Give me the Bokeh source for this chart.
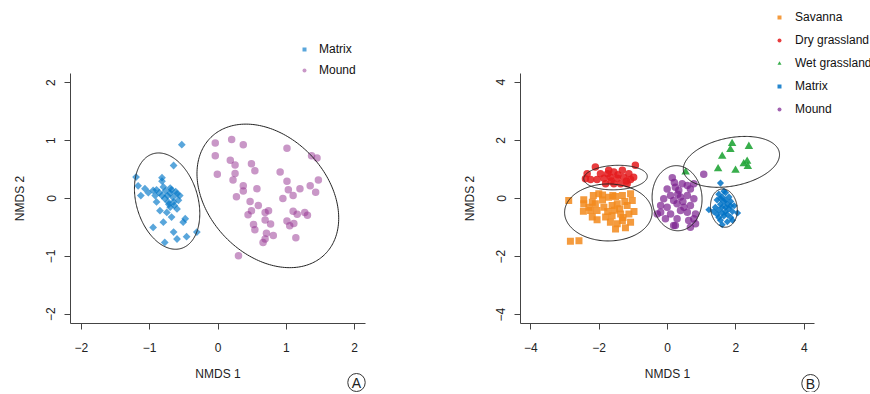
import numpy as np
from bokeh.plotting import figure
from bokeh.layouts import row
from bokeh.models import FixedTicker, Legend, LegendItem, Label
from bokeh.embed import file_html
from bokeh.resources import INLINE

FONT = "Liberation Sans"

# ---------------- Panel A data ----------------
matrixA_x = [-0.53, -0.65, -1.20, -0.82, -0.82, -1.17, -1.07, -1.13, -0.95, -0.90,
             -0.80, -0.68, -0.70, -0.60, -0.56, -0.82, -0.78, -0.90, -0.73, -0.65,
             -0.58, -0.70, -0.60, -0.85, -0.75, -0.68, -0.48, -0.51, -0.80, -0.95,
             -0.65, -0.60, -0.46, -0.31, -0.78, -0.92, -0.74, -0.66, -0.72, -0.62,
             -0.86, -0.70, -0.77, -0.64, -1.02]
matrixA_y = [0.93, 0.57, 0.37, 0.36, 0.30, 0.22, 0.17, 0.05, 0.14, 0.15,
             0.20, 0.15, 0.09, 0.08, 0.05, 0.05, 0.00, -0.06, -0.06, -0.06,
             -0.03, -0.15, -0.18, -0.21, -0.24, -0.32, -0.35, -0.41, -0.41, -0.50,
             -0.58, -0.70, -0.66, -0.58, -0.76, 0.05, 0.05, 0.02, -0.10, 0.12,
             0.10, 0.18, 0.13, -0.12, 0.10]

moundA_x = [-0.04, 0.20, 0.37, 1.01, -0.04, 0.18, 0.25, 0.49, 1.37, 1.45,
            -0.01, 0.25, 0.22, 0.54, 0.91, 1.01, 1.47, 1.35, 0.37, 0.37,
            0.57, 1.03, 1.20, 1.43, 0.27, 1.10, 0.95, 0.47, 0.59, 0.49,
            0.44, 0.69, 0.74, 1.10, 1.16, 1.27, 1.31, 0.69, 0.52, 0.54,
            0.77, 1.01, 1.05, 1.11, 0.71, 0.81, 0.69, 0.66, 1.14, 0.30]
moundA_y = [0.96, 1.02, 0.93, 0.87, 0.74, 0.66, 0.58, 0.60, 0.74, 0.70,
            0.42, 0.43, 0.32, 0.48, 0.46, 0.30, 0.32, 0.22, 0.22, 0.13,
            0.17, 0.15, 0.17, 0.11, 0.03, 0.05, 0.00, -0.05, -0.12, -0.21,
            -0.28, -0.24, -0.21, -0.22, -0.27, -0.24, -0.29, -0.37, -0.45, -0.54,
            -0.44, -0.39, -0.47, -0.43, -0.60, -0.64, -0.70, -0.76, -0.68, -0.99]

# ellipses: centre x, centre y, semi-major, semi-minor, angle (deg)
ellA_names = ["Matrix", "Mound"]
ellA_cx = [-0.745, 0.73]
ellA_cy = [-0.045, 0.045]
ellA_a = [0.845, 1.33]
ellA_b = [0.455, 0.92]
ellA_ang = [102, 120]

# ---------------- Panel B data ----------------
savanna_x = [-2.89, -2.45, -2.45, -2.46, -2.17, -2.01, -2.20, -2.11, -1.72, -1.52,
             -1.32, -1.08, -2.25, -2.06, -1.86, -1.62, -1.47, -1.18, -1.03, -2.20,
             -2.06, -1.81, -1.62, -1.37, -1.13, -1.67, -1.47, -1.32, -1.08, -1.52,
             -1.23, -2.84, -2.59, -1.90, -1.75, -1.55, -1.40, -1.25, -1.90, -2.30,
             -0.98, -1.60, -1.30]
savanna_y = [-0.07, -0.04, -0.18, -0.44, 0.10, 0.16, -0.13, -0.18, 0.04, 0.07,
             0.10, 0.16, -0.41, -0.41, -0.30, -0.24, -0.18, -0.24, -0.07, -0.64,
             -0.73, -0.64, -0.59, -0.53, -0.53, -0.82, -0.87, -0.76, -0.82, -1.05,
             -1.01, -1.47, -1.45, 0.12, -0.45, -0.40, -0.35, -0.10, -0.05, -0.30,
             -0.45, 0.10, -0.65]

dry_x = [-2.11, -0.94, -2.35, -2.40, -1.96, -1.72, -1.57, -1.32, -1.13, -2.06,
         -1.86, -1.67, -1.47, -1.28, -1.08, -1.81, -1.57, -1.37, -1.18, -2.25,
         -0.99, -1.75, -1.45, -1.20, -1.65]
dry_y = [1.08, 1.14, 0.85, 0.68, 0.85, 0.97, 0.91, 0.97, 0.85, 0.65,
         0.70, 0.73, 0.70, 0.73, 0.65, 0.51, 0.51, 0.51, 0.51, 0.65,
         0.73, 0.85, 0.82, 0.60, 0.60]

wet_x = [1.89, 2.38, 1.84, 1.60, 2.33, 2.23, 2.35, 1.48, 1.99, 0.53]
wet_y = [1.89, 1.79, 1.68, 1.45, 1.28, 1.19, 1.10, 1.02, 0.97, 0.91]

matrixB_x = [1.55, 1.21, 1.50, 1.70, 1.60, 1.80, 1.45, 1.65, 1.85, 1.55,
             1.75, 1.95, 1.40, 1.60, 1.80, 1.50, 1.70, 1.90, 2.05, 1.45,
             1.65, 1.85, 1.55, 1.75, 1.60, 1.70, 1.55, 1.75, 1.60, 1.70,
             1.85, 1.50, 1.65, 1.90, 1.35]
matrixB_y = [0.53, -0.39, 0.15, 0.20, 0.05, 0.05, -0.05, -0.10, -0.10, -0.20,
             -0.20, -0.25, -0.30, -0.30, -0.35, -0.40, -0.45, -0.45, -0.50, -0.55,
             -0.60, -0.65, -0.75, -0.80, -0.90, -0.05, 0.00, -0.55, -0.50, -0.30,
             -0.25, -0.65, 0.25, -0.75, -0.45]

moundB_x = [0.14, 1.06, 0.43, 0.23, -0.01, 0.33, 0.58, 0.67, 0.77, 0.09,
            -0.11, 0.18, 0.38, 0.58, 0.77, -0.20, -0.01, 0.28, 0.48, 0.67,
            -0.20, 0.09, 0.38, 0.58, -0.06, 0.28, 0.62, 0.77, 0.18, 0.67,
            -0.30, 0.23, 0.82, 0.82, 0.30, 0.20, 0.45]
moundB_y = [0.71, 0.83, 0.51, 0.39, 0.33, 0.28, 0.45, 0.33, 0.51, 0.10,
            -0.01, -0.07, 0.05, 0.10, -0.01, -0.24, -0.30, -0.18, -0.30, -0.24,
            -0.47, -0.53, -0.41, -0.47, -0.70, -0.70, -0.76, -0.70, -0.93, -0.99,
            -0.53, -0.93, -0.87, -0.53, 0.15, 0.55, -0.10]

ellB_names = ["Savanna", "Dry grassland", "Wet grassland", "Mound", "Matrix"]
ellB_cx = [-1.73, -1.52, 1.87, 0.28, 1.65]
ellB_cy = [-0.48, 0.72, 1.26, 0.01, -0.33]
ellB_a = [1.28, 0.93, 1.44, 1.12, 0.66]
ellB_b = [0.98, 0.42, 0.82, 0.73, 0.39]
ellB_ang = [0, 3, 15, 92, 95]

ticksA = [-2, -1, 0, 1, 2]
ticksB = [-4, -2, 0, 2, 4]

# ---------------- layout (pixels) ----------------
H = 392
BOX_TOP, BOX_BOTTOM = 73, 323           # axis box, canvas pixels


def ellipse_pts(cx, cy, a, b, ang):
    t = np.linspace(0, 2 * np.pi, 240)
    th = np.deg2rad(ang)
    x = cx + a * np.cos(t) * np.cos(th) - b * np.sin(t) * np.sin(th)
    y = cy + a * np.cos(t) * np.sin(th) + b * np.sin(t) * np.cos(th)
    return x, y


def make_fig(width, box_left, box_right, lim):
    """Frame covers the whole canvas; axes are pinned at the box edges."""
    kx = (box_right - box_left) / (2 * lim)
    ky = (BOX_BOTTOM - BOX_TOP) / (2 * lim)
    xr = (-lim - box_left / kx, -lim + (width - box_left) / kx)
    yr = (-lim - (H - BOX_BOTTOM) / ky, lim + BOX_TOP / ky)
    p = figure(width=width, height=H, x_range=xr, y_range=yr, title=None,
               output_backend="svg", toolbar_location=None,
               min_border=0, min_border_left=0, min_border_right=0,
               min_border_top=0, min_border_bottom=0)
    p.grid.visible = False
    p.outline_line_color = None
    p.background_fill_color = "white"
    p.border_fill_color = "white"
    p.xaxis.fixed_location = -lim
    p.yaxis.fixed_location = -lim
    for ax in (p.xaxis[0], p.yaxis[0]):
        ax.bounds = (-lim, lim)
        ax.major_tick_out = 6
        ax.major_tick_in = 0
        ax.minor_tick_line_color = None
        ax.axis_line_color = "#444444"
        ax.major_tick_line_color = "#444444"
        ax.major_label_text_font = FONT
        ax.major_label_text_font_size = "12px"
        ax.major_label_text_color = "#222222"
        ax.axis_label_text_font = FONT
        ax.axis_label_text_font_size = "12px"
        ax.axis_label_text_font_style = "normal"
        ax.axis_label_text_color = "#222222"
    p.xaxis.major_label_standoff = 13
    p.yaxis.major_label_standoff = 9
    p.xaxis.axis_label_standoff = 12
    p.yaxis.axis_label_standoff = 17
    p.xaxis.axis_label = "NMDS 1"
    p.yaxis.axis_label = "NMDS 2"
    p.yaxis.major_label_orientation = "vertical"
    return p, kx, ky


def style_legend(items, loc, standoff, spacing):
    lg = Legend(items=items, location=loc)
    lg.background_fill_alpha = 0
    lg.border_line_color = None
    lg.padding = 0
    lg.margin = 0
    lg.spacing = spacing
    lg.glyph_width = 10
    lg.glyph_height = 12
    lg.label_height = 12
    lg.label_width = 10
    lg.label_standoff = standoff
    lg.label_text_font = FONT
    lg.label_text_font_size = "12px"
    lg.label_text_color = "#111111"
    return lg


def circled(x, y, txt):
    return Label(x=x, y=y, text=txt, text_align="center", text_baseline="middle",
                 text_font=FONT, text_font_size="14px", text_color="#222222",
                 border_line_color="#333333", border_line_width=1,
                 padding=dict(left=4, right=4, top=1, bottom=1), border_radius=9)


# ---------------- Panel A ----------------
WA = 430
limA = 2.16
pA, kxA, kyA = make_fig(WA, 70, 365, limA)
pA.xaxis.ticker = FixedTicker(ticks=ticksA)
pA.yaxis.ticker = FixedTicker(ticks=ticksA)
rA1 = pA.scatter(matrixA_x, matrixA_y, marker="square", angle=np.pi / 4, size=5.5,
                 fill_color="#0077C8", fill_alpha=0.65, line_color=None)
rA2 = pA.scatter(moundA_x, moundA_y, marker="circle", size=7.5,
                 fill_color="#93308F", fill_alpha=0.5, line_color=None)
for i in range(len(ellA_names)):
    ex, ey = ellipse_pts(ellA_cx[i], ellA_cy[i], ellA_a[i], ellA_b[i], ellA_ang[i])
    pA.line(ex, ey, line_color="#222222", line_width=1)
pA.add_layout(style_legend([LegendItem(label="Matrix", renderers=[rA1]),
                            LegendItem(label="Mound", renderers=[rA2])],
                           (299, H - 77), 10, 7))
pA.add_layout(circled(-limA + (356 - 70) / kxA, -limA - (382 - BOX_BOTTOM) / kyA, "A"))

# ---------------- Panel B ----------------
WB = 440
limB = 4.3
pB, kxB, kyB = make_fig(WB, 90, 384, limB)
pB.xaxis.ticker = FixedTicker(ticks=ticksB)
pB.yaxis.ticker = FixedTicker(ticks=ticksB)
rB1 = pB.scatter(savanna_x, savanna_y, marker="square", size=7,
                 fill_color="#F28A1C", fill_alpha=0.85, line_color=None)
rB2 = pB.scatter(dry_x, dry_y, marker="circle", size=7.5,
                 fill_color="#E41A1C", fill_alpha=0.85, line_color=None)
rB3 = pB.scatter(wet_x, wet_y, marker="triangle", size=8.5,
                 fill_color="#22A538", fill_alpha=0.9, line_color=None)
rB4 = pB.scatter(matrixB_x, matrixB_y, marker="square", angle=np.pi / 4, size=5,
                 fill_color="#0072C6", fill_alpha=0.85, line_color=None)
rB5 = pB.scatter(moundB_x, moundB_y, marker="circle", size=7.5,
                 fill_color="#7B1F8E", fill_alpha=0.7, line_color=None)
for i in range(len(ellB_names)):
    ex, ey = ellipse_pts(ellB_cx[i], ellB_cy[i], ellB_a[i], ellB_b[i], ellB_ang[i])
    pB.line(ex, ey, line_color="#222222", line_width=1)
pB.add_layout(style_legend([LegendItem(label="Savanna", renderers=[rB1]),
                            LegendItem(label="Dry grassland", renderers=[rB2]),
                            LegendItem(label="Wet grassland", renderers=[rB3]),
                            LegendItem(label="Matrix", renderers=[rB4]),
                            LegendItem(label="Mound", renderers=[rB5])],
                           (344, H - 116), 11, 9))
pB.add_layout(circled(-limB + (380 - 90) / kxB, -limB - (383 - BOX_BOTTOM) / kyB, "B"))

layout = row(pA, pB)
open("out.html", "w").write(file_html(layout, INLINE))
